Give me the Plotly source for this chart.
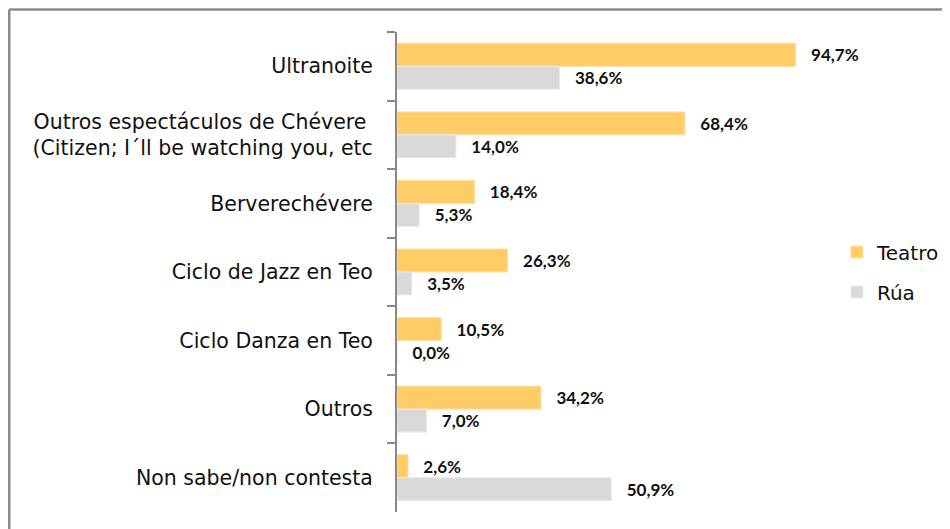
import plotly.graph_objects as go

categories = [
    "Ultranoite",
    "Outros espectáculos de Chévere <br>(Citizen; I´ll be watching you, etc",
    "Berverechévere",
    "Ciclo de Jazz en Teo",
    "Ciclo Danza en Teo",
    "Outros",
    "Non sabe/non contesta",
]
teatro = [94.7, 68.4, 18.4, 26.3, 10.5, 34.2, 2.6]
rua = [38.6, 14.0, 5.3, 3.5, 0.0, 7.0, 50.9]

CAT_FONT = "DejaVu Sans"
LBL_FONT = "Lato"

fig = go.Figure()
fig.add_trace(go.Bar(
    y=categories, x=teatro, orientation="h", name="Teatro", legendgroup="a",
    marker=dict(color="#FFCC66", line=dict(color="#FFE0A0", width=1)),
    texttemplate="   %{x:.1f}%", textposition="outside",
    textfont=dict(family=LBL_FONT, size=17, color="#111111", weight="bold"),
    cliponaxis=False, constraintext="none",
))
fig.add_trace(go.Bar(
    y=categories, x=rua, orientation="h", name="Rúa", legendgroup="b",
    marker=dict(color="#D9D9D9", line=dict(color="#EBEBEB", width=1)),
    texttemplate="   %{x:.1f}%", textposition="outside",
    textfont=dict(family=LBL_FONT, size=17, color="#111111", weight="bold"),
    cliponaxis=False, constraintext="none",
))

fig.update_layout(
    width=950, height=529,
    margin=dict(l=389, r=140, t=24, b=25),
    paper_bgcolor="white", plot_bgcolor="white",
    barmode="group", bargap=0.33, bargroupgap=0,
    separators=",.",
    font=dict(family=CAT_FONT, size=18, color="#111111"),
    showlegend=True,
    legend=dict(x=1.045, y=0.5, yanchor="middle", xanchor="left",
                font=dict(family=CAT_FONT, size=20, color="#111111"),
                traceorder="grouped", tracegroupgap=11,
                itemwidth=30, bgcolor="rgba(0,0,0,0)"),
    xaxis=dict(range=[0, 100], visible=False, showgrid=False, zeroline=False),
    yaxis=dict(autorange="reversed", showline=True, linecolor="#888888", linewidth=2,
               ticks="outside", tickson="boundaries", ticklen=8, tickwidth=2,
               tickcolor="#888888", showgrid=False,
               tickfont=dict(family=CAT_FONT, size=20.5, color="#111111"),
               ticklabelstandoff=18),
    shapes=[
        dict(type="line", xref="paper", yref="paper", x0=-0.921, x1=1.4, y0=1.047, y1=1.047,
             line=dict(color="#8C8C8C", width=2.5)),
        dict(type="line", xref="paper", yref="paper", x0=-0.921, x1=-0.921, y0=-0.1, y1=1.047,
             line=dict(color="#8C8C8C", width=2.5)),
    ],
)

fig.write_html("out.html")
